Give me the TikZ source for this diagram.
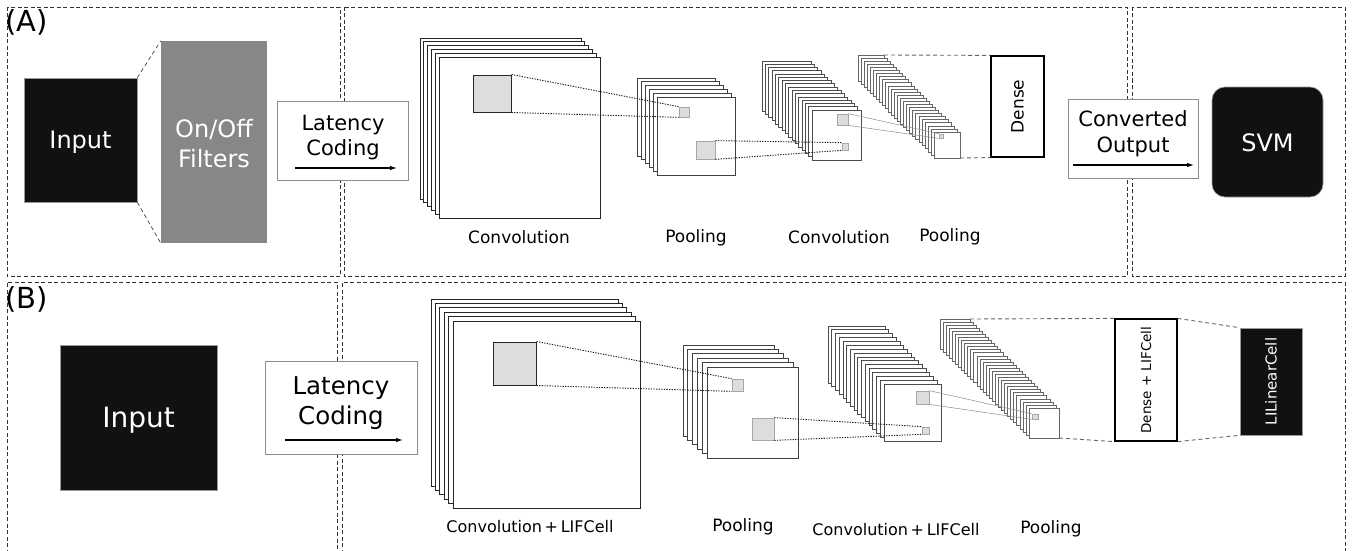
\documentclass[tikz,border=0pt]{standalone}
\usepackage{fontspec}
\setmainfont{DejaVu Sans}
\usetikzlibrary{arrows.meta,calc}
\definecolor{boxblack}{HTML}{111111}
\definecolor{filtgray}{HTML}{878787}
\definecolor{sqgray}{HTML}{DDDDDD}
\newcommand{\setfs}[2]{\fontsize{#1}{#2}\selectfont}
\begin{document}
\begin{tikzpicture}[x=1pt,y=-1pt,
  frame/.style={draw=black!80, line width=0.9pt, dash pattern=on 4pt off 2.5pt},
  blk/.style={fill=boxblack, draw=black!40, line width=0.6pt, inner sep=0pt, text=white},
  lbox/.style={draw=black!45, fill=white, line width=0.9pt, inner sep=0pt},
  layer/.style={draw=black!85, fill=white, line width=0.9pt},
  thinlayer/.style={draw=black!60, fill=white, line width=0.6pt},
  sqr/.style={fill=sqgray, draw=black!35, line width=0.7pt, inner sep=0pt, minimum size=0pt},
  sqd/.style={sqr, draw=black!85, line width=1pt},
  dotl/.style={draw=black!90, line width=0.9pt, dash pattern=on 1.3pt off 1.3pt},
  fine/.style={draw=black!45, line width=0.5pt},
  dashl/.style={draw=black!60, line width=0.9pt, dash pattern=on 4pt off 3pt},
  flow/.style={-{Latex[length=7pt,width=4.5pt]}, line width=1.1pt},
  lbl/.style={font=\setfs{17}{20}},
  lblb/.style={font=\setfs{16}{19}},
  densebox/.style={draw=black, line width=1.2pt, fill=white, inner sep=0pt}
]
\useasboundingbox (0,0) rectangle (1354,551);

% ---------- dashed frames ----------
\draw[frame] (7,7) rectangle (340,276);
\draw[frame] (344,7) rectangle (1127,276);
\draw[frame] (1132,7) rectangle (1345,276);
\draw[frame] (7,560) -- (7,282) -- (337,282) -- (337,560);
\draw[frame] (342,560) -- (342,282) -- (1345,282) -- (1345,560);

% ---------- panel labels ----------
\node[font=\setfs{29}{34}, anchor=west, inner sep=0pt] (labA) at (5,22) {(A)};
\node[font=\setfs{29}{34}, anchor=west, inner sep=0pt] (labB) at (5,299) {(B)};

% ========== (A) ==========
\node[blk, minimum width=113pt, minimum height=124pt] (inA) at (80.5,140) {};
\node[text=white, font=\setfs{24}{29}] (inAt) at (80.5,142.5) {Input};
\node[fill=filtgray, inner sep=0pt, minimum width=106pt, minimum height=202pt] (filt) at (214,142) {};
\node[text=white, align=center, font=\setfs{24}{30}] (filtt) at (214,144) {On/Off\\Filters};
\draw[dashl, draw=black!75, line width=0.7pt] (inA.north east) -- (filt.north west);
\draw[dashl, draw=black!75, line width=0.7pt] (inA.south east) -- (filt.south west);

\node[lbox, minimum width=131pt, minimum height=79pt] (latA) at (342.5,140.5) {};
\node[font=\setfs{21}{25}, align=center] (latAt) at (343,138) {Latency\\Coding};
\coordinate (latA1) at (295,168);
\coordinate (latA2) at (397,168);
\draw[flow] (latA1) -- (latA2);

% conv A
\foreach \i in {0,...,5} \draw[layer] ({420+\i*3.8},{38+\i*3.8}) rectangle ++(161,161);
% pool A
\foreach \i in {0,...,5} \draw[layer, draw=black!75] ({637+\i*4},{78+\i*3.8}) rectangle ++(78,78);
% conv2 A
\foreach \i in {0,...,15} \draw[layer, draw=black!70, line width=0.8pt] ({762+\i*3.33},{61+\i*3.27}) rectangle ++(49,50);
% pool2 A
\foreach \i in {0,...,25} \draw[thinlayer] ({858+\i*3.04},{55+\i*3.08}) rectangle ++(26,26);
\coordinate (p2Atr) at (884,55);
\coordinate (p2Abr) at (960,158);

\node[sqd, minimum width=38pt, minimum height=37pt] (gA) at (492,93.5) {};
\node[sqr, minimum width=10pt, minimum height=10pt] (pA1) at (684,112) {};
\node[sqr, minimum width=19pt, minimum height=18pt] (pA2) at (705.5,150) {};
\node[sqr, minimum width=6pt, minimum height=7pt] (cA1) at (845,146.5) {};
\node[sqr, minimum width=11pt, minimum height=11pt] (cA2) at (842.5,119.5) {};
\node[sqr, minimum width=4pt, minimum height=4pt] (qA) at (941,136) {};

\draw[dotl] (gA.north east) -- (pA1.north west);
\draw[dotl] (gA.south east) -- (pA1.south west);
\draw[dotl] (pA2.north east) -- (cA1.north west);
\draw[dotl] (pA2.south east) -- (cA1.south west);
\draw[fine] (cA2.north east) -- (qA.north west);
\draw[fine] (cA2.south east) -- (qA.south west);

\node[densebox, minimum width=53pt, minimum height=101pt] (denA) at (1017.5,106.5) {};
\node[rotate=90, font=\setfs{17}{20}] (denAt) at (denA) {Dense};
\draw[dashl] (p2Atr) -- (denA.north west);
\draw[dashl] (p2Abr) -- (denA.south west);

\node[lbox, minimum width=130pt, minimum height=79pt] (cvt) at (1133,138.5) {};
\node[font=\setfs{21}{26}, align=center] (cvtt) at (1133,134) {Converted\\Output};
\coordinate (cvt1) at (1073,165);
\coordinate (cvt2) at (1194,165);
\draw[flow] (cvt1) -- (cvt2);

\node[blk, rounded corners=13pt, minimum width=111pt, minimum height=110pt] (svm) at (1267.5,142) {};
\node[text=white, font=\setfs{24}{29}] (svmt) at (1267.5,143) {SVM};

\node[lbl] (tA1) at (519,237) {Convolution};
\node[lbl] (tA2) at (696,238) {Pooling};
\node[lbl] (tA3) at (839,237) {Convolution};
\node[lbl] (tA4) at (950,237) {Pooling};

% ========== (B) ==========
\node[blk, minimum width=157pt, minimum height=145pt] (inB) at (138.5,417.5) {};
\node[text=white, font=\setfs{28}{33}] (inBt) at (138.5,420) {Input};

\node[lbox, minimum width=152pt, minimum height=93pt] (latB) at (341,407.5) {};
\node[font=\setfs{24.5}{30}, align=center] (latBt) at (341,403.5) {Latency\\Coding};
\coordinate (latB1) at (285,440);
\coordinate (latB2) at (403,440);
\draw[flow] (latB1) -- (latB2);

% conv B
\foreach \i in {0,...,5} \draw[layer] ({431+\i*4.4},{299+\i*4.4}) rectangle ++(187,187);
% pool B
\foreach \i in {0,...,5} \draw[layer, draw=black!75] ({683+\i*4.8},{345+\i*4.4}) rectangle ++(91,91);
% conv2 B
\foreach \i in {0,...,15} \draw[layer, draw=black!70, line width=0.8pt] ({828+\i*3.73},{326+\i*3.87}) rectangle ++(57,57);
% pool2 B
\foreach \i in {0,...,29} \draw[thinlayer] ({940+\i*3.07},{319+\i*3.07}) rectangle ++(30,30);
\coordinate (p2Btr) at (970,319);
\coordinate (p2Bbr) at (1059,438);

\node[sqd, minimum width=43pt, minimum height=43pt] (gB) at (514.5,363.5) {};
\node[sqr, minimum width=11pt, minimum height=12pt] (pB1) at (737.5,385) {};
\node[sqr, minimum width=22pt, minimum height=22pt] (pB2) at (763,429) {};
\node[sqr, minimum width=7pt, minimum height=7pt] (cB1) at (925.5,430.5) {};
\node[sqr, minimum width=13pt, minimum height=13pt] (cB2) at (922.5,397.5) {};
\node[sqr, minimum width=6pt, minimum height=5pt] (qB) at (1035,416.5) {};

\draw[dotl] (gB.north east) -- (pB1.north west);
\draw[dotl] (gB.south east) -- (pB1.south west);
\draw[dotl] (pB2.north east) -- (cB1.north west);
\draw[dotl] (pB2.south east) -- (cB1.south west);
\draw[fine] (cB2.north east) -- (qB.north west);
\draw[fine] (cB2.south east) -- (qB.south west);

\node[densebox, minimum width=62pt, minimum height=122pt] (denB) at (1146,380) {};
\node[rotate=90, font=\setfs{13.5}{16}] (denBt) at (denB) {Dense + LIFCell};
\draw[dashl] (p2Btr) -- (denB.north west);
\draw[dashl] (p2Bbr) -- (denB.south west);

\node[blk, minimum width=62pt, minimum height=107pt] (lil) at (1271,381.5) {};
\node[rotate=90, text=white, font=\setfs{15}{18}] (lilt) at (lil) {LILinearCell};
\draw[dashl] (denB.north east) -- (lil.north west);
\draw[dashl] (denB.south east) -- (lil.south west);

\node[lblb] (tB1) at (530,527) {Convolution\,+\,LIFCell};
\node[lbl] (tB2) at (743,527) {Pooling};
\node[lblb] (tB3) at (896,530) {Convolution\,+\,LIFCell};
\node[lbl] (tB4) at (1051,529) {Pooling};
\end{tikzpicture}
\end{document}
